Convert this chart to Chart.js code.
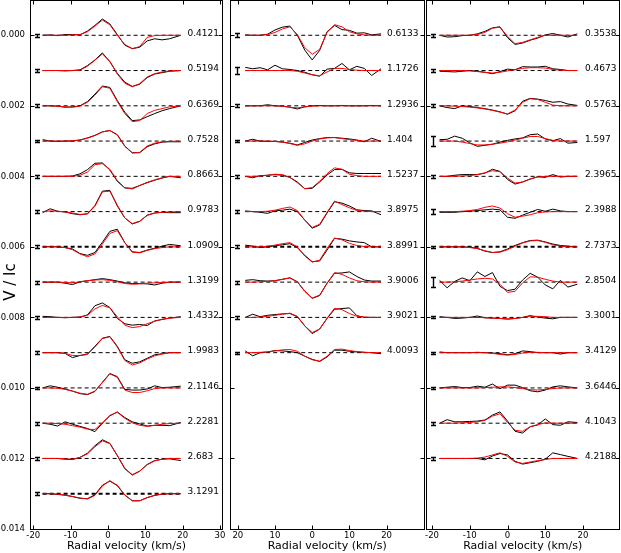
<!DOCTYPE html>
<html>
<head>
<meta charset="utf-8">
<script src="https://cdn.jsdelivr.net/npm/chart.js@4.4.0/dist/chart.umd.min.js"></script>
<style>
  html, body { margin: 0; padding: 0; background: #fff; }
  #wrap { position: relative; width: 621px; height: 553px; overflow: hidden; background: #fff; }
  #wrap canvas { position: absolute; left: 0; top: 0; }
</style>
</head>
<body>
<div id="wrap">
  <canvas id="p1" width="621" height="553"></canvas>
  <canvas id="p2" width="621" height="553"></canvas>
  <canvas id="p3" width="621" height="553"></canvas>
</div>
<script>
// === DONNEES ===
// profils en unites de 1e-4 (V/Ic), decales de 0.001 l'un sous l'autre
const UNIT = 1e-4;
const STEP = 0.001;

const yTicks = [-0.014, -0.012, -0.010, -0.008, -0.006, -0.004, -0.002, 0.000];
const yLabels = ["-0.014", "-0.012", "-0.010", "-0.008", "-0.006", "-0.004", "-0.002", "0.000"];

const xTicks1 = [-20, -10, 0, 10, 20, 30];
const xLabels1 = ["-20", "-10", "0", "10", "20", "30"];
const xTicks2 = [-20, -10, 0, 10, 20];
const xLabels2 = ["20", "10", "0", "10", "20"];
const xTicks3 = [-20, -10, 0, 10, 20];
const xLabels3 = ["-20", "-10", "0", "10", "20"];

const vel1 = [-17.5, -15.5, -13.5, -11.5, -9.5, -7.5, -5.5, -3.5, -1.5, 0.5, 2.5, 4.5, 6.5, 8.5, 10.5, 12.5, 14.5, 16.5, 19.5];
const vel2 = [-18, -16, -14, -12, -10, -8, -6, -4, -2, 0, 2, 4, 6, 8, 10, 12, 14, 16, 18.5];
const vel3 = [-18, -16, -14, -12, -10, -8, -6, -4, -2, 0, 2, 4, 6, 8, 10, 12, 14, 16, 18.5];

const phases1 = ["0.4121", "0.5194", "0.6369", "0.7528", "0.8663", "0.9783", "1.0909", "1.3199", "1.4332", "1.9983", "2.1146", "2.2281", "2.683", "3.1291"];
const phases2 = ["0.6133", "1.1726", "1.2936", "1.404", "1.5237", "3.8975", "3.8991", "3.9006", "3.9021", "4.0093"];
const phases3 = ["0.3538", "0.4673", "0.5763", "1.597", "2.3965", "2.3988", "2.7373", "2.8504", "3.3001", "3.4129", "3.6446", "4.1043", "4.2188"];

const err1 = [0.4, 0.4, 0.4, 0.4, 0.4, 0.4, 0.4, 0.4, 0.4, 0.4, 0.4, 0.4, 0.4, 0.4];
const err2 = [0.6, 1.0, 0.4, 0.4, 0.4, 0.4, 0.4, 0.4, 0.4, 0.3];
const err3 = [0.4, 0.4, 0.4, 1.3, 0.4, 0.8, 0.3, 1.4, 0.3, 0.3, 0.3, 0.4, 0.4];

// observations (noir)
const obs1 = [
  [0, 0.1, -0.1, 0.2, 0.2, 0.1, 1.2, 2.8, 4.6, 3.2, 0.2, -2.8, -3.8, -3.4, -1.6, -1.0, -1.3, -1.0, 0],
  [0, 0, 0, -0.1, 0, 0.2, 1.4, 3.0, 5.0, 2.5, -0.8, -3.3, -4.5, -3.9, -2.0, -1.0, -0.6, -0.2, 0],
  [0, 0, -0.1, -0.4, -0.3, 0, 1.2, 3.3, 5.6, 5.2, 1.5, -1.8, -4.2, -4.0, -3.1, -2.2, -1.4, -0.8, 0],
  [0.4, 0, -0.1, 0, 0, 0.3, 0.9, 1.6, 2.6, 3.0, 1.8, -1.4, -3.3, -3.3, -1.6, -0.8, -0.3, -0.2, -0.2],
  [0, 0, 0, 0, 0.1, 0.7, 1.9, 3.7, 3.8, 1.8, -1.4, -3.3, -3.4, -2.6, -1.8, -1.1, -0.5, 0, -0.4],
  [-0.3, 0.8, 0.1, -0.1, -0.6, -0.9, -0.6, 1.7, 5.8, 6.0, 1.6, -1.8, -3.5, -2.8, -1.0, -0.4, -0.2, -0.3, -0.3],
  [0, 0.1, 0, -0.2, -0.6, -1.9, -2.4, -1.6, 1.3, 4.4, 5.0, 1.2, -1.4, -1.6, -0.9, -0.4, 0.2, 0.7, 0.3],
  [0, 0, 0, -0.3, -0.7, 0.1, 0.4, 0.7, 1.0, 0.7, 0.3, -0.2, -0.4, -0.4, -0.5, -0.8, -0.3, 0, 0],
  [0.3, 0.2, 0, -0.1, 0, 0.1, 0.7, 3.3, 4.1, 2.8, -0.3, -1.8, -2.2, -2.0, -2.3, -1.0, -0.6, -0.2, 0.2],
  [0, 0, 0, -0.2, -1.4, -0.8, -0.4, 1.8, 4.1, 4.6, 1.8, -2.0, -3.0, -2.6, -1.6, -0.6, -0.3, 0, 0],
  [0, 0.6, 0.2, -0.3, -0.9, -1.6, -1.9, -1.0, 1.6, 4.1, 3.2, -0.4, -0.6, -0.6, -0.3, 0.6, 0.1, 0.2, 0.5],
  [0, -0.3, -0.8, 0.4, -0.3, -0.9, -1.5, -2.4, 0.0, 2.1, 3.2, 1.6, 0.4, -0.2, -0.8, -0.6, -0.6, -0.7, 0.2],
  [0, 0, 0, -0.2, -0.3, 0.3, 1.5, 3.6, 5.3, 4.3, 0.8, -2.9, -4.7, -3.6, -1.7, -0.6, -0.2, -0.1, -0.6],
  [0, 0, -0.2, -0.4, -0.8, -1.3, -1.4, -0.3, 2.4, 3.6, 2.3, -0.4, -2.0, -2.0, -1.1, -0.5, -0.1, 0, 0]
];
const obs2 = [
  [0.1, 0, 0, 0.3, 1.5, 2.3, 2.6, 0, -4.2, -7.0, -4.3, 1.0, 2.8, 1.6, 1.4, 0.6, 0.7, 0.1, 0.4],
  [0.9, 0.5, 0.8, 0.2, 1.5, 0.5, 0.3, 0, -0.5, -1.2, -1.6, 0.4, 0.6, 2.0, 0.2, 1.2, 0.6, -1.4, 0.5],
  [0, 0, 0, 0.3, 0, -0.1, -0.4, -0.9, -0.3, 0, 0.1, 0, 0, 0.1, 0, 0, 0, 0.1, 0],
  [0, 0.5, 0, -0.1, -0.1, -0.3, -0.6, -1.1, -0.4, 0.3, 0.7, 1.0, 1.0, 0.8, 0.6, 0.3, -0.2, 0.8, -0.1],
  [0, -0.4, 0.2, 0.3, 0.5, 0.3, -0.3, -1.6, -3.5, -3.4, -1.6, 0.4, 1.9, 2.0, 1.0, 0.8, 0.8, 0.8, 0.8],
  [0.2, 0, -0.2, -0.5, 0.2, 0.4, 0.7, 0, -2.4, -4.7, -3.8, -0.4, 2.8, 2.4, 1.6, 0.5, 0.3, 0.2, -0.9],
  [0.5, 0.2, -0.2, 0, 0.3, 0.6, 0.9, -0.2, -2.4, -4.2, -4.0, -0.9, 2.4, 2.2, 1.7, 1.4, 1.2, 0, 0],
  [0.5, 0.7, 0.4, 0.3, 0.4, 0.8, 1.2, 0.1, -2.6, -4.6, -3.8, -0.3, 2.5, 2.6, 2.9, 1.6, 0.6, 0.3, 0.3],
  [0, 0.9, 0.2, 0.6, 0.8, 1.0, 1.1, 0.2, -2.4, -4.6, -3.3, -0.3, 2.3, 2.5, 2.7, 0.5, 0, 0, 0],
  [0.5, -0.9, 0, 0.2, 0.6, 0.5, 0.3, 0, -1.0, -1.9, -2.5, -1.2, 0.7, 0.7, 0.4, 0.2, 0.1, 0, -0.3]
];
const obs3 = [
  [0, -0.5, -0.4, -0.1, 0, 0.4, 1.1, 2.1, 2.4, -0.7, -2.6, -2.2, -1.4, -0.8, 0.1, 0.5, 0, -0.5, 0.4],
  [-0.2, -0.3, -0.4, -0.2, 0, -0.2, -0.5, -0.9, -0.3, 0.4, 0.2, 1.1, 1.0, 1.0, 1.2, 0.5, 0.3, 0, 0],
  [0, -0.5, -0.8, 0, -0.2, -0.5, -0.8, -1.2, -1.7, -2.4, -1.4, 1.3, 2.1, 1.9, 1.5, 1.0, 1.2, 0.5, 0.1],
  [0.4, 0.5, 1.4, 0.8, -0.5, -1.5, -1.2, -0.9, -0.3, 0.2, 0.6, 0.9, 1.8, 2.0, 0.6, 0.1, 0.7, -0.6, -0.4],
  [0, 0, 0.3, 0.5, 0.5, 0.5, 0.9, 2.0, 1.4, -0.9, -2.2, -1.6, -0.8, -0.1, -0.3, 0.5, -0.2, 0, 0],
  [-0.2, -0.2, -0.2, 0, 0.1, 0.3, 0.5, 0.7, 0.5, -1.6, -1.9, -1.0, -0.2, 0.6, 0.1, 0.7, 0.2, 0, 0],
  [0, 0, 0, 0, -0.1, -0.4, -1.2, -1.6, -1.4, -0.6, 0.4, 1.2, 1.8, 1.9, 1.4, 0.8, 0.4, 0.2, 0],
  [0.5, -1.6, 0.2, 1.2, 0.4, 2.9, 1.6, 2.7, -1.2, -2.4, -2.0, 0.6, 2.5, 1.4, -0.8, -1.9, 0.5, -1.4, -0.6],
  [0.2, 0, -0.3, -0.2, 0, 0.4, -0.1, -0.2, -0.3, -0.5, -0.3, 0, 0.5, 0.1, -0.2, -0.4, 0, 0, 0],
  [0.2, 0, 0, 0, 0, 0.1, 0, -0.1, -0.3, -0.6, -0.3, 0.5, 0.3, 0, 0, 0, -0.4, 0, 0],
  [0, 0.2, 0.4, 0.1, 0.1, 0.5, 0.2, 1.1, -0.2, 0.8, 0.8, 0.1, -0.8, -1.1, -0.6, 0.3, 0.6, 0.3, 0],
  [0, 1.0, 0.4, 0.4, 0.5, 0.6, 0.9, 2.3, 3.2, 0.6, -2.3, -2.8, -1.0, -0.5, 1.2, -0.4, -0.6, 0.4, 0.2],
  [0, 0, 0, 0, 0, 0, -0.4, 0.7, 1.4, 1.0, -0.8, -1.6, -1.2, -0.8, -0.2, 1.6, 1.1, 0.6, 0]
];

// modeles (rouge)
const mod1 = [
  [0, 0, 0, 0, 0.1, 0.2, 1.0, 2.6, 4.3, 3.0, 0, -2.6, -3.8, -3.2, -0.6, -0.1, 0, 0, 0],
  [0, 0, 0, 0, 0, 0.1, 1.2, 2.9, 4.7, 2.6, -1.0, -3.6, -4.6, -3.7, -1.8, -0.9, -0.4, -0.1, 0],
  [0, 0, -0.1, -0.3, -0.4, -0.1, 1.0, 3.0, 5.4, 5.0, 1.2, -2.2, -4.5, -4.2, -2.2, -1.3, -0.8, -0.3, 0],
  [0, 0, 0, 0, 0.1, 0.3, 0.8, 1.6, 2.6, 3.0, 1.7, -1.5, -3.4, -3.2, -1.4, -0.6, -0.2, -0.1, 0],
  [0, 0, 0, 0, 0, 0.3, 1.2, 3.3, 3.6, 2.0, -1.2, -3.2, -3.6, -2.6, -1.7, -1.0, -0.4, 0, 0],
  [0, 0.2, 0.1, -0.1, -0.4, -0.8, -0.7, 1.5, 5.6, 5.8, 1.8, -1.8, -3.4, -2.7, -1.1, -0.4, -0.2, -0.1, 0],
  [0, 0, 0, -0.2, -0.8, -2.0, -2.8, -2.0, 0.8, 3.8, 4.6, 1.2, -1.5, -1.7, -1.0, -0.5, -0.2, 0, 0],
  [0, 0, 0, -0.1, -0.2, 0.1, 0.4, 0.6, 0.7, 0.5, 0.1, -0.4, -0.6, -0.5, -0.3, -0.2, -0.1, 0, 0],
  [0, 0, 0, 0, 0, 0.1, 0.6, 2.4, 3.4, 2.7, 0.2, -2.2, -2.9, -2.6, -1.8, -1.1, -0.5, -0.2, 0],
  [0, 0, 0, -0.2, -0.8, -0.8, -0.5, 1.6, 4.0, 4.5, 1.6, -2.2, -3.5, -2.9, -1.8, -0.9, -0.4, 0, 0],
  [0, 0, -0.1, -0.4, -0.9, -1.5, -1.8, -0.9, 1.5, 4.0, 3.0, -0.6, -1.3, -1.3, -0.8, -0.2, 0, 0, 0],
  [0, 0, -0.1, -0.3, -0.7, -1.1, -1.7, -1.8, 0.1, 2.2, 3.1, 1.4, 0.1, -0.6, -0.9, -0.6, -0.3, -0.1, 0],
  [0, 0, 0, -0.1, -0.2, 0.3, 1.3, 3.3, 5.0, 4.2, 0.9, -2.8, -4.6, -3.6, -1.8, -0.7, -0.2, 0, 0],
  [0, 0, -0.1, -0.4, -0.8, -1.2, -1.5, -0.5, 2.2, 3.7, 2.4, -0.3, -2.0, -2.0, -1.1, -0.4, -0.1, 0, 0]
];
const mod2 = [
  [0, 0, 0, 0.2, 0.8, 1.8, 2.4, 0.2, -3.5, -5.4, -4.0, 0.8, 3.0, 2.4, 1.0, 0.4, 0.1, 0, 0],
  [0, 0, 0, 0, 0, 0, 0, -0.2, -0.7, -1.2, -1.5, -0.4, 0.6, 0.6, 0.3, 0.1, 0, 0, 0],
  [0, 0, 0, 0, 0, -0.1, -0.4, -0.6, -0.3, -0.1, 0, 0, 0, 0, 0, 0, 0, 0, 0],
  [0, 0, 0, 0, -0.1, -0.3, -0.7, -1.2, -0.8, 0, 0.6, 0.9, 1.0, 0.7, 0.4, 0.2, 0, 0, 0],
  [0, 0, 0.1, 0.3, 0.6, 0.5, -0.3, -1.8, -3.5, -3.2, -1.4, 0.8, 2.4, 2.0, 0.6, 0.2, 0, 0, 0],
  [0, 0, 0, 0.1, 0.4, 0.9, 1.3, 0.3, -2.4, -4.5, -3.6, -0.2, 3.0, 2.0, 1.1, 0.3, 0.1, 0, 0],
  [0, 0, 0, 0.2, 0.5, 0.9, 1.2, 0, -2.6, -4.3, -3.8, -0.4, 2.5, 2.0, 1.0, 0.4, 0.1, 0, 0],
  [0, 0, 0.1, 0.2, 0.4, 0.8, 1.2, 0.1, -2.5, -4.5, -3.7, -0.3, 2.7, 2.2, 1.2, 0.4, 0.1, 0, 0],
  [0, 0, 0.1, 0.3, 0.6, 0.9, 1.2, 0.3, -2.4, -4.3, -3.3, -0.2, 2.6, 2.2, 1.1, 0.3, 0.1, 0, 0],
  [0, 0, 0.1, 0.2, 0.5, 0.8, 0.9, 0.4, -1.0, -2.0, -2.4, -1.0, 0.9, 1.0, 0.6, 0.3, 0.1, 0, 0]
];
const mod3 = [
  [0, 0, 0, 0, 0, 0.2, 0.8, 2.0, 2.3, -0.3, -2.4, -2.0, -1.3, -0.6, 0, 0, 0, 0, 0],
  [0, 0, 0, 0, -0.1, -0.3, -0.5, -0.7, -0.5, -0.1, 0.3, 0.6, 0.8, 0.8, 0.7, 0.3, 0.1, 0, 0],
  [0, 0, -0.1, -0.2, -0.4, -0.6, -0.9, -1.3, -1.8, -2.3, -1.2, 1.0, 2.0, 1.8, 1.0, 0.2, 0, 0, 0],
  [0, 0, 0, -0.3, -0.7, -1.1, -1.1, -0.9, -0.6, -0.2, 0.3, 0.8, 1.3, 1.3, 0.7, 0.2, 0, 0, 0],
  [0, 0, 0, 0.1, 0.2, 0.5, 1.0, 1.6, 1.3, -0.5, -1.9, -1.6, -0.7, -0.2, 0, 0, 0, 0, 0],
  [0, 0, 0, 0.1, 0.3, 0.6, 1.2, 1.6, 1.0, -0.6, -1.6, -1.3, -0.9, -0.3, -0.1, 0, 0, 0, 0],
  [0, 0, 0, 0, -0.2, -0.5, -1.1, -1.6, -1.5, -0.8, 0.2, 1.1, 1.7, 1.8, 1.3, 0.6, 0.2, 0, 0],
  [0, 0, 0.1, 0.3, 0.6, 0.9, 1.1, 0.9, -0.6, -2.9, -2.6, -0.2, 1.5, 1.4, 0.8, 0.3, 0, 0, 0],
  [0, 0, 0, 0, 0, 0, -0.1, -0.2, -0.3, -0.4, -0.3, 0, 0.3, 0.3, 0.2, 0, 0, 0, 0],
  [0, 0, 0, 0, 0, 0, 0, -0.2, -0.5, -0.7, -0.5, -0.1, 0.1, 0.1, 0, 0, 0, 0, 0],
  [0, 0, 0, 0, 0, 0, 0.1, 0.2, 0.3, 0.3, 0.1, -0.2, -0.5, -0.6, -0.4, -0.2, 0, 0, 0],
  [0, 0, 0, 0.1, 0.2, 0.4, 0.8, 2.0, 2.7, 0.2, -2.0, -2.3, -1.0, -0.4, 0.1, 0, 0, 0, 0],
  [0, 0, 0, 0, 0, 0.1, 0.4, 1.0, 1.6, 0.6, -1.0, -1.4, -1.0, -0.6, -0.3, 0, 0, 0, 0]
];

// === PANNEAUX ===
const FONT = '"DejaVu Sans", sans-serif';

function makePanel(id, p) {
  const datasets = [];
  p.obs.forEach((o, k) => {
    const base = -STEP * k;
    datasets.push({ data: p.vel.map((v, i) => ({ x: v, y: base + p.mod[k][i] * UNIT })), borderColor: "#ff0000", order: 0 });
    datasets.push({ data: p.vel.map((v, i) => ({ x: v, y: base + o[i] * UNIT })), borderColor: "#000000", order: 1 });
    datasets.push({
      data: [{ x: p.vel[0], y: base }, { x: p.vel[p.vel.length - 1], y: base }],
      borderColor: "#000000", borderDash: [4, 3], borderWidth: p.bold.includes(k) ? 2 : 1, order: 2
    });
  });

  // cadre, graduations, barres d'erreur, phases
  const decor = {
    id: "decor_" + id,
    afterDraw(chart) {
      const { ctx, chartArea: a, scales: { x, y } } = chart;
      ctx.save();
      ctx.strokeStyle = "#000";
      ctx.fillStyle = "#000";

      p.err.forEach((e, k) => {
        const base = -STEP * k;
        const px = Math.round(x.getPixelForValue(p.errX)) + 0.5;
        const y1 = Math.round(y.getPixelForValue(base + e * UNIT)) + 0.5;
        const y2 = Math.round(y.getPixelForValue(base - e * UNIT)) + 0.5;
        ctx.lineWidth = 1.4;
        ctx.beginPath();
        ctx.moveTo(px, y1); ctx.lineTo(px, y2);
        ctx.moveTo(px - 2.5, y1); ctx.lineTo(px + 2.5, y1);
        ctx.moveTo(px - 2.5, y2); ctx.lineTo(px + 2.5, y2);
        ctx.stroke();
      });

      ctx.font = "9px " + FONT;
      ctx.textAlign = "left";
      ctx.textBaseline = "alphabetic";
      p.phases.forEach((ph, k) => {
        ctx.fillText(ph, x.getPixelForValue(p.labelX), y.getPixelForValue(-STEP * k) + 0.7);
      });

      ctx.lineWidth = 1;
      const L = Math.floor(a.left) + 0.5, R = Math.floor(a.right) + 0.5;
      const T = Math.floor(a.top) + 0.5, B = Math.floor(a.bottom) + 0.5;
      ctx.strokeRect(L, T, R - L, B - T);
      ctx.beginPath();
      yTicks.forEach(v => {
        const py = Math.round(y.getPixelForValue(v)) + 0.5;
        ctx.moveTo(L, py); ctx.lineTo(L + 4, py);
        ctx.moveTo(R, py); ctx.lineTo(R - 4, py);
      });
      p.xTicks.forEach(v => {
        const px = Math.round(x.getPixelForValue(v)) + 0.5;
        ctx.moveTo(px, B); ctx.lineTo(px, B - 4);
        ctx.moveTo(px, T); ctx.lineTo(px, T + 4);
      });
      ctx.stroke();

      if (p.showY) {
        ctx.translate(11, 282);
        ctx.rotate(-Math.PI / 2);
        ctx.font = "15px " + FONT;
        ctx.textAlign = "center";
        ctx.textBaseline = "middle";
        ctx.fillText("V / Ic", 0, 0);
      }
      ctx.restore();
    }
  };

  return new Chart(document.getElementById(id), {
    type: "line",
    data: { datasets },
    options: {
      responsive: false,
      animation: false,
      devicePixelRatio: 1,
      layout: { padding: { left: p.showY ? 0 : p.left, right: 621 - p.right, top: 0, bottom: 0 } },
      elements: { point: { radius: 0 }, line: { borderWidth: 1, tension: 0, fill: false } },
      plugins: { legend: { display: false }, tooltip: { enabled: false } },
      scales: {
        x: {
          type: "linear", min: p.xmin, max: p.xmax,
          grid: { display: false, drawTicks: false }, border: { display: false },
          afterBuildTicks: s => { s.ticks = p.xTicks.map(v => ({ value: v })); },
          afterFit: s => { s.height = 24; s.paddingLeft = 0; s.paddingRight = 0; },
          ticks: {
            padding: 2, color: "#000", autoSkip: false, maxRotation: 0,
            font: { family: FONT, size: 8.5 },
            callback: (v, i) => p.xLabels[i]
          },
          title: { display: true, text: "Radial velocity (km/s)", padding: 0, color: "#000", font: { family: FONT, size: 11 } }
        },
        y: {
          display: p.showY, min: -0.014, max: 0.001,
          grid: { display: false, drawTicks: false }, border: { display: false },
          afterBuildTicks: s => { s.ticks = yTicks.map(v => ({ value: v })); },
          afterFit: s => { s.width = p.showY ? p.left : 0; s.paddingTop = 0; s.paddingBottom = 0; },
          ticks: {
            padding: 5.5, color: "#000", autoSkip: false,
            font: { family: FONT, size: 8.5 },
            callback: (v, i) => yLabels[i]
          }
        }
      }
    },
    plugins: [decor]
  });
}

makePanel("p1", {
  vel: vel1, obs: obs1, mod: mod1, err: err1, phases: phases1,
  xTicks: xTicks1, xLabels: xLabels1, left: 30.5, right: 222.5,
  xmin: -20.75, xmax: 30.67, errX: -19.0, labelX: 21.3, showY: true, bold: [6, 13]
});
makePanel("p2", {
  vel: vel2, obs: obs2, mod: mod2, err: err2, phases: phases2,
  xTicks: xTicks2, xLabels: xLabels2, left: 230.5, right: 424,
  xmin: -21.96, xmax: 30.05, errX: -20.1, labelX: 20.1, showY: false, bold: [6]
});
makePanel("p3", {
  vel: vel3, obs: obs3, mod: mod3, err: err3, phases: phases3,
  xTicks: xTicks3, xLabels: xLabels3, left: 426, right: 619.5,
  xmin: -21.6, xmax: 29.67, errX: -19.7, labelX: 20.5, showY: false, bold: [6]
});
</script>
</body>
</html>
